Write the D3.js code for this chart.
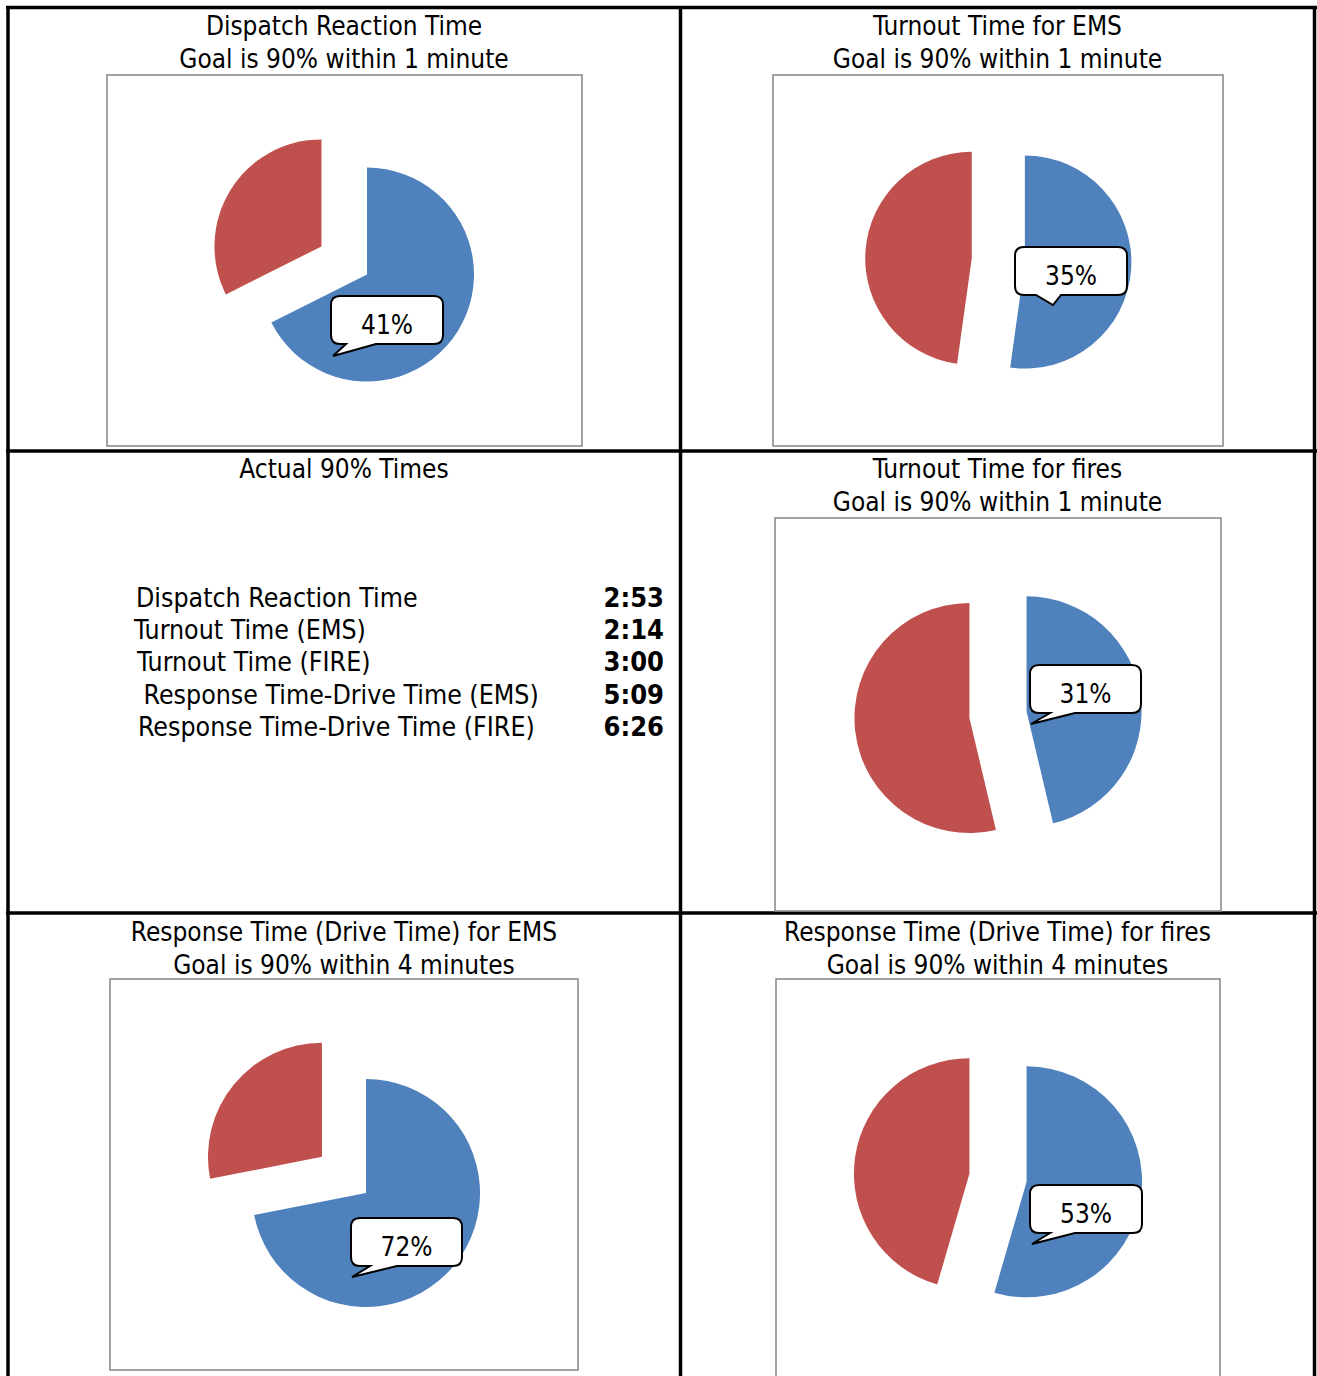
<!DOCTYPE html>
<html>
<head>
<meta charset="utf-8">
<script src="https://cdn.jsdelivr.net/npm/d3@7"></script>
<style>
  html, body { margin: 0; padding: 0; background: #fff; }
  svg { display: block; }
  text { font-family: "DejaVu Sans Condensed", "DejaVu Sans", sans-serif; fill: #000; }
</style>
</head>
<body>
<svg id="chart" width="1317" height="1376"></svg>
<script>
// ---------------- DATA ----------------
const chartTitles = [
  ["Dispatch Reaction Time", "Goal is 90% within 1 minute"],
  ["Turnout Time for EMS", "Goal is 90% within 1 minute"],
  ["Turnout Time for fires", "Goal is 90% within 1 minute"],
  ["Response Time (Drive Time) for EMS", "Goal is 90% within 4 minutes"],
  ["Response Time (Drive Time) for fires", "Goal is 90% within 4 minutes"]
];
const seriesNames = ["Blue slice", "Red slice"];
const blueValues = [67.6, 52.2, 46.3, 71.9, 54.5];
const redValues  = [32.4, 47.8, 53.7, 28.1, 45.5];
const calloutLabels = ["41%", "35%", "31%", "72%", "53%"];

const tableTitle = "Actual 90% Times";
const timeLabels = [
  "Dispatch Reaction Time",
  "Turnout Time (EMS)",
  "Turnout Time (FIRE)",
  " Response Time-Drive Time (EMS)",
  "Response Time-Drive Time (FIRE)"
];
const timeValues = ["2:53", "2:14", "3:00", "5:09", "6:26"];

// ---------------- LAYOUT (positions / styles) ----------------
const colors = ["#4F81BD", "#C0504D"];
const layout = [
  { cx: 344,   titleY: 35,  frame: [107, 75, 582, 446],  c: [367, 274.5],  r: 107, explode: [0, 0.5],
    box: [331, 296, 443, 344], tail: [346, 376, 333, 356] },
  { cx: 997.5, titleY: 35,  frame: [773, 75, 1223, 446], c: [998.3, 260.2], r: 106.5, explode: [0.25, 0.25],
    box: [1015, 247, 1127, 295], tail: [1036, 1061, 1053, 305] },
  { cx: 997.5, titleY: 478, frame: [775, 518, 1221, 911], c: [998, 714.7],  r: 115, explode: [0.25, 0.25],
    box: [1030, 665, 1141, 713], tail: [1050, 1075, 1031, 724] },
  { cx: 344,   titleY: 941, frame: [110, 979, 578, 1370], c: [366, 1193],   r: 114, explode: [0, 0.5],
    box: [351, 1218, 462, 1266], tail: [370, 397, 352, 1277] },
  { cx: 997.5, titleY: 941, frame: [776, 979, 1220, 1390], c: [998, 1177.7], r: 115.5, explode: [0.25, 0.25],
    box: [1030, 1185, 1142, 1233], tail: [1050, 1075, 1032, 1244] }
];
const fontSize = 26;
const tableFontSize = 26.5;
const lineGap = 32.5;

const svg = d3.select("#chart");

// ---------------- TABLE GRID ----------------
const grid = svg.append("g").attr("stroke", "#000").attr("stroke-width", 3.5);
[[6, 7.5, 1317, 7.5], [6, 451, 1317, 451], [6, 913, 1317, 913],
 [8, 6, 8, 1376], [680.5, 6, 680.5, 1376], [1314.5, 6, 1314.5, 1376]].forEach(l => {
  grid.append("line").attr("x1", l[0]).attr("y1", l[1]).attr("x2", l[2]).attr("y2", l[3]);
});

// ---------------- PIES ----------------
const pie = d3.pie().sort(null).value(d => d.value);

layout.forEach((L, i) => {
  const g = svg.append("g");
  g.append("rect")
    .attr("x", L.frame[0]).attr("y", L.frame[1])
    .attr("width", L.frame[2] - L.frame[0]).attr("height", L.frame[3] - L.frame[1])
    .attr("fill", "#fff").attr("stroke", "#8c8c8c").attr("stroke-width", 1.6);

  chartTitles[i].forEach((t, k) => {
    g.append("text").attr("x", L.cx).attr("y", L.titleY + k * lineGap)
      .attr("text-anchor", "middle").attr("font-size", fontSize).text(t);
  });

  const data = [
    { name: seriesNames[0], value: blueValues[i] },
    { name: seriesNames[1], value: redValues[i] }
  ];
  const arc = d3.arc().innerRadius(0).outerRadius(L.r);
  g.selectAll("path.slice").data(pie(data)).join("path")
    .attr("class", "slice")
    .attr("fill", (d, j) => colors[j])
    .attr("transform", (d, j) => {
      const mid = (d.startAngle + d.endAngle) / 2;
      const off = L.explode[j] * L.r;
      return `translate(${L.c[0] + Math.sin(mid) * off},${L.c[1] - Math.cos(mid) * off})`;
    })
    .attr("d", arc);

  const [x0, y0, x1, y1] = L.box;
  const [b1, b2, tx, ty] = L.tail;
  const rr = 9;
  const p = `M${x0 + rr},${y0} H${x1 - rr} Q${x1},${y0} ${x1},${y0 + rr} V${y1 - rr} Q${x1},${y1} ${x1 - rr},${y1}` +
            ` H${b2} L${tx},${ty} L${b1},${y1} H${x0 + rr} Q${x0},${y1} ${x0},${y1 - rr} V${y0 + rr} Q${x0},${y0} ${x0 + rr},${y0} Z`;
  g.append("path").attr("d", p).attr("fill", "#fff").attr("stroke", "#000").attr("stroke-width", 2);
  g.append("text").attr("x", (x0 + x1) / 2).attr("y", y1 - 10.5)
    .attr("text-anchor", "middle").attr("font-size", fontSize).text(calloutLabels[i]);
});

// ---------------- TIMES TABLE ----------------
const tg = svg.append("g");
tg.append("text").attr("x", 344).attr("y", 478).attr("text-anchor", "middle")
  .attr("font-size", fontSize).text(tableTitle);
const labelX = [136, 134, 137, 136, 138];
const rowY = [607, 639, 671, 703.5, 736];
timeLabels.forEach((t, k) => {
  tg.append("text").attr("x", labelX[k]).attr("y", rowY[k]).attr("font-size", tableFontSize)
    .attr("xml:space", "preserve").style("white-space", "pre").text(t);
  tg.append("text").attr("x", 664).attr("y", rowY[k]).attr("font-size", 27)
    .attr("text-anchor", "end").attr("font-weight", "bold").text(timeValues[k]);
});
</script>
</body>
</html>
